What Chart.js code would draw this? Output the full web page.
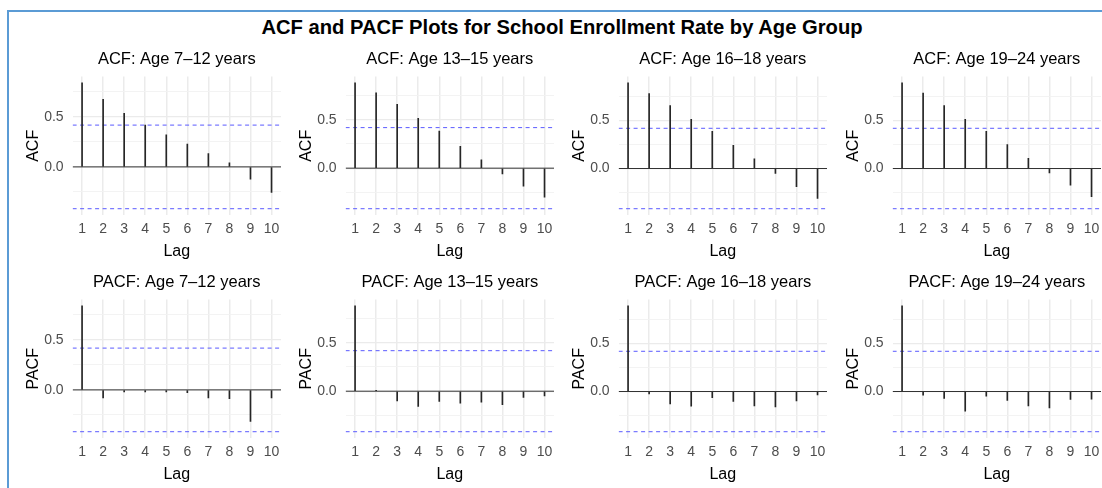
<!DOCTYPE html>
<html>
<head>
<meta charset="utf-8">
<script src="https://cdn.jsdelivr.net/npm/chart.js@4.4.1/dist/chart.umd.min.js"></script>
<style>
  html, body { margin: 0; padding: 0; background: #ffffff; width: 1102px; height: 488px; overflow: hidden; }
  #frame { position: absolute; left: 7px; top: 10px; width: 1200px; height: 600px;
           border-left: 2px solid #5b9bd5; border-top: 2px solid #5b9bd5; }
  #mainTitle { position: absolute; left: 0; top: 15px; width: 1124px; text-align: center;
               font: bold 20.2px "Liberation Sans", Arial, sans-serif; line-height: 24px; color: #000; }
  .panel { position: absolute; }
  .panel canvas { display: block; }
</style>
</head>
<body>
<div id="frame"></div>
<div id="mainTitle">ACF and PACF Plots for School Enrollment Rate by Age Group</div>
<div id="panels"></div>
<script>
// ---------------- data ----------------
const lags = [1, 2, 3, 4, 5, 6, 7, 8, 9, 10];
const ageGroups = ['7–12 years', '13–15 years', '16–18 years', '19–24 years'];

const acf_7_12  = [0.840, 0.675, 0.536, 0.417, 0.321, 0.228, 0.132, 0.040, -0.123, -0.255];
const acf_13_15 = [0.879, 0.776, 0.659, 0.514, 0.383, 0.224, 0.086, -0.059, -0.186, -0.300];
const acf_16_18 = [0.890, 0.779, 0.655, 0.510, 0.386, 0.241, 0.100, -0.052, -0.190, -0.310];
const acf_19_24 = [0.890, 0.783, 0.655, 0.510, 0.386, 0.248, 0.107, -0.045, -0.172, -0.293];

const pacf_7_12  = [0.840, -0.080, -0.020, -0.020, -0.020, -0.027, -0.080, -0.087, -0.315, -0.080];
const pacf_13_15 = [0.880, 0.008, -0.100, -0.158, -0.106, -0.123, -0.113, -0.140, -0.065, -0.048];
const pacf_16_18 = [0.890, -0.024, -0.128, -0.153, -0.063, -0.104, -0.150, -0.160, -0.097, -0.035];
const pacf_19_24 = [0.890, -0.038, -0.073, -0.205, -0.049, -0.094, -0.150, -0.170, -0.083, -0.080];

const ciBound = 0.418;                       // 1.96 / sqrt(n)
const yTickValues = [-0.5, -0.25, 0, 0.25, 0.5, 0.75];

const acfSeries  = [acf_7_12, acf_13_15, acf_16_18, acf_19_24];
const pacfSeries = [pacf_7_12, pacf_13_15, pacf_16_18, pacf_19_24];

// ---------------- layout ----------------
const FONT = '"Liberation Sans", Arial, sans-serif';
const colLefts = [21, 294, 567, 841];
const rowTops = [49, 272];
const Y_AXIS_W = 51.6;
const X_AXIS_H = 46;
const PANEL_W = 266;
const PANEL_H = 212;

function expandRange(lo, hi) {
  const r = hi - lo;
  return [lo - 0.05 * r, hi + 0.05 * r];
}

function isMajor(v) {
  return Math.abs(v * 2 - Math.round(v * 2)) < 1e-9;
}

function makePanel(row, col, kind, values) {
  const holder = document.createElement('div');
  holder.className = 'panel';
  holder.style.left = colLefts[col] + 'px';
  holder.style.top = rowTops[row] + 'px';
  holder.style.width = PANEL_W + 'px';
  holder.style.height = PANEL_H + 'px';
  const cv = document.createElement('canvas');
  cv.width = PANEL_W; cv.height = PANEL_H;
  holder.appendChild(cv);
  document.getElementById('panels').appendChild(holder);

  const [xMin, xMax] = expandRange(lags[0], lags[lags.length - 1]);
  const [yMin, yMax] = expandRange(Math.min(0, -ciBound, ...values), Math.max(0, ciBound, ...values));

  const flat = (yv) => [{ x: xMin, y: yv }, { x: xMax, y: yv }];

  new Chart(cv, {
    type: 'bar',
    data: {
      datasets: [
        {
          type: 'bar',
          data: lags.map((l, i) => ({ x: l, y: values[i] })),
          backgroundColor: '#262626',
          borderWidth: 0,
          barThickness: 1,
          order: 1
        },
        {
          type: 'line',
          data: flat(0),
          borderColor: '#333333',
          borderWidth: 1,
          pointRadius: 0,
          order: 0
        },
        {
          type: 'line',
          data: flat(ciBound),
          borderColor: '#5a5aff',
          borderWidth: 1,
          borderDash: [4, 3.5],
          pointRadius: 0,
          order: 2
        },
        {
          type: 'line',
          data: flat(-ciBound),
          borderColor: '#5a5aff',
          borderWidth: 1,
          borderDash: [4, 3.5],
          pointRadius: 0,
          order: 2
        }
      ]
    },
    options: {
      responsive: false,
      animation: false,
      events: [],
      layout: { padding: { left: 0, right: 6, top: 0, bottom: 0 } },
      plugins: {
        legend: { display: false },
        tooltip: { enabled: false },
        title: {
          display: true,
          fullSize: false,
          text: kind + ': Age ' + ageGroups[col],
          color: '#000000',
          font: { family: FONT, size: 16.5, weight: 'normal', lineHeight: 1.2 },
          padding: { top: 0.5, bottom: 7.3 }
        }
      },
      scales: {
        x: {
          type: 'linear',
          min: xMin,
          max: xMax,
          offset: false,
          afterBuildTicks: (s) => { s.ticks = lags.map(v => ({ value: v })); },
          afterFit: (s) => { s.height = X_AXIS_H; },
          ticks: {
            color: '#4d4d4d',
            font: { family: FONT, size: 14 },
            padding: 6,
            maxRotation: 0,
            autoSkip: false,
            callback: (v) => String(v)
          },
          grid: { color: '#ebebeb', lineWidth: 1.5, drawTicks: false, offset: false },
          border: { display: false },
          title: {
            display: true,
            text: 'Lag',
            color: '#000000',
            font: { family: FONT, size: 16, lineHeight: 1.2 },
            padding: { top: 0, bottom: 0 }
          }
        },
        y: {
          type: 'linear',
          min: yMin,
          max: yMax,
          afterBuildTicks: (s) => {
            s.ticks = yTickValues.filter(v => v >= yMin && v <= yMax).map(v => ({ value: v }));
          },
          afterFit: (s) => { s.width = Y_AXIS_W; },
          ticks: {
            color: '#4d4d4d',
            font: { family: FONT, size: 14 },
            padding: 9,
            autoSkip: false,
            callback: (v) => (isMajor(v) ? v.toFixed(1) : '')
          },
          grid: {
            drawTicks: false,
            color: (c) => (isMajor(c.tick.value) ? '#ebebeb' : '#f2f2f2'),
            lineWidth: (c) => (isMajor(c.tick.value) ? 1.2 : 0.9)
          },
          border: { display: false },
          title: {
            display: true,
            text: kind,
            color: '#000000',
            font: { family: FONT, size: 16, lineHeight: 1.2 },
            padding: { top: 3, bottom: 0 }
          }
        }
      }
    }
  });
}

for (let c = 0; c < 4; c++) makePanel(0, c, 'ACF', acfSeries[c]);
for (let c = 0; c < 4; c++) makePanel(1, c, 'PACF', pacfSeries[c]);
</script>
</body>
</html>
